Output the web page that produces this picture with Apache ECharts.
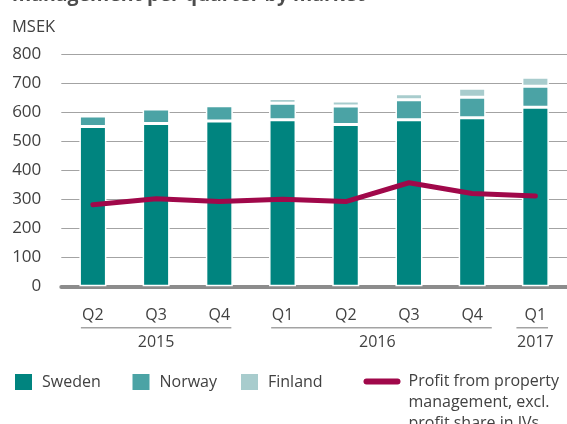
<!DOCTYPE html>
<html>
<head>
<meta charset="utf-8">
<script src="https://cdn.jsdelivr.net/npm/echarts@6/dist/echarts.min.js"></script>
<style>
  html, body { margin: 0; padding: 0; background: #fff; }
  #chart { width: 567px; height: 424px; }
</style>
</head>
<body>
<div id="chart"></div>
<script>
// ---- data ----
const quarters = ['Q2', 'Q3', 'Q4', 'Q1', 'Q2', 'Q3', 'Q4', 'Q1'];
const years = ['2015', '2015', '2015', '2016', '2016', '2016', '2016', '2017'];
const sweden = [551, 561, 570, 574, 558, 574, 581, 617];
const norway = [36, 50, 53, 57, 64, 69, 71, 73];
const finland = [0, 0, 0, 17, 17, 21, 31, 31];
const profit = [281, 302, 292, 300, 292, 357, 320, 311];
const seriesNames = ['Sweden', 'Norway', 'Finland', 'Profit from property management, excl. profit share in JVs'];
const profitLegendLines = ['Profit from property', 'management, excl.', 'profit share in JVs'];
const titleText = 'management per quarter by market';
const unitText = 'MSEK';
const yMin = 0, yMax = 800, yStep = 100;

// ---- style ----
const FONT = '"Open Sans", sans-serif';
const TXT = '#414141';
const C_SWE = '#00847f', C_NOR = '#4ba3a5', C_FIN = '#a8cccd', C_LINE = '#a0084a';
// year group underline extents, in category units beyond first/last center
const groupExt = { '2015': [-0.19, 0.19], '2016': [-0.18, 0.31], '2017': [-0.30, 0.20] };

const chart = echarts.init(document.getElementById('chart'), null, { renderer: 'canvas' });

const barStyle = (c) => ({ color: c, borderColor: '#ffffff', borderWidth: 1.5 });

// keep the first legend line level with the icon: pad the block with empty lines above
const profitLegendText = () => ['', ''].concat(profitLegendLines).join('\n');

const option = {
  animation: false,
  backgroundColor: '#ffffff',
  textStyle: { fontFamily: FONT },
  title: [
    { text: titleText, left: 12, top: -14.5, padding: 0,
      textStyle: { fontFamily: FONT, fontSize: 19.5, fontWeight: 'bold', color: '#4d4d4d', lineHeight: 20 } },
    { text: unitText, left: 12, top: 17, padding: 0,
      textStyle: { fontFamily: FONT, fontSize: 16.5, fontWeight: 'normal', color: TXT, lineHeight: 20 } }
  ],
  grid: { left: 61.3, right: -3.6, top: 54.3, bottom: 424 - 286.3, containLabel: false },
  legend: [
    { data: [seriesNames[0]], left: 13, top: 372, padding: 0, itemWidth: 19, itemHeight: 18, icon: 'rect',
      textStyle: { fontFamily: FONT, fontSize: 16, color: TXT, lineHeight: 20, padding: [0, 0, 0, 4] } },
    { data: [seriesNames[1]], left: 130.5, top: 372, padding: 0, itemWidth: 19, itemHeight: 18, icon: 'rect',
      textStyle: { fontFamily: FONT, fontSize: 16, color: TXT, lineHeight: 20, padding: [0, 0, 0, 4] } },
    { data: [seriesNames[2]], left: 239, top: 372, padding: 0, itemWidth: 19, itemHeight: 18, icon: 'rect',
      textStyle: { fontFamily: FONT, fontSize: 16, color: TXT, lineHeight: 20, padding: [0, 0, 0, 4] } },
    { data: [seriesNames[3]], left: 363.5, top: 329, padding: 0, itemWidth: 37, itemHeight: 6,
      icon: 'path://M3,0L34,0A3,3,0,0,1,34,6L3,6A3,3,0,0,1,3,0Z',
      formatter: profitLegendText,
      textStyle: { fontFamily: FONT, fontSize: 16, color: TXT, lineHeight: 21, padding: [0, 0, 0, 3] } }
  ],
  xAxis: {
    type: 'category',
    data: quarters,
    offset: 8.7,
    axisLine: { show: true, lineStyle: { color: '#8c8c8c', width: 4 } },
    axisTick: { show: false },
    axisLabel: { fontFamily: FONT, fontSize: 16, color: TXT, margin: 12, interval: 0 },
    splitLine: { show: false }
  },
  yAxis: {
    type: 'value',
    min: yMin, max: yMax, interval: yStep,
    axisLine: { show: false },
    axisTick: { show: false },
    axisLabel: { fontFamily: FONT, fontSize: 17, color: TXT, margin: 20 },
    splitLine: { show: true, lineStyle: { width: 1,
      color: ['rgba(0,0,0,0)', '#a3a3a3', '#a3a3a3', '#a3a3a3', '#a3a3a3', '#a3a3a3', '#a3a3a3', '#a3a3a3', '#a3a3a3'] } }
  },
  series: [
    { name: seriesNames[0], type: 'bar', stack: 'm', barWidth: 27, data: sweden, itemStyle: barStyle(C_SWE) },
    { name: seriesNames[1], type: 'bar', stack: 'm', barWidth: 27, data: norway, itemStyle: barStyle(C_NOR) },
    { name: seriesNames[2], type: 'bar', stack: 'm', barWidth: 27, data: finland, itemStyle: barStyle(C_FIN) },
    { name: seriesNames[3], type: 'line', data: profit, symbol: 'none', z: 5,
      itemStyle: { color: C_LINE },
      lineStyle: { color: C_LINE, width: 5, cap: 'round', join: 'round' } }
  ]
};
chart.setOption(option);

// ---- year group labels and underlines, positioned through the category axis ----
const groups = [];
years.forEach((y, i) => {
  const g = groups.length && groups[groups.length - 1].year === y ? groups[groups.length - 1] : null;
  if (g) g.last = i; else groups.push({ year: y, first: i, last: i });
});
const px = (i) => chart.convertToPixel({ xAxisIndex: 0 }, i);
const catW = px(1) - px(0);
const graphics = [];
groups.forEach(g => {
  const x0 = px(g.first), x1 = px(g.last);
  const ext = groupExt[g.year] || [-0.19, 0.19];
  graphics.push({
    type: 'line', silent: true,
    shape: { x1: x0 + ext[0] * catW, y1: 327.7, x2: x1 + ext[1] * catW, y2: 327.7 },
    style: { stroke: '#a3a3a3', lineWidth: 1.5 }
  });
  graphics.push({
    type: 'text', silent: true,
    style: { text: g.year, x: (x0 + x1) / 2, y: 342.3, align: 'center', verticalAlign: 'middle',
      font: '16px ' + FONT, fill: TXT }
  });
});
chart.setOption({ graphic: graphics });
</script>
</body>
</html>
